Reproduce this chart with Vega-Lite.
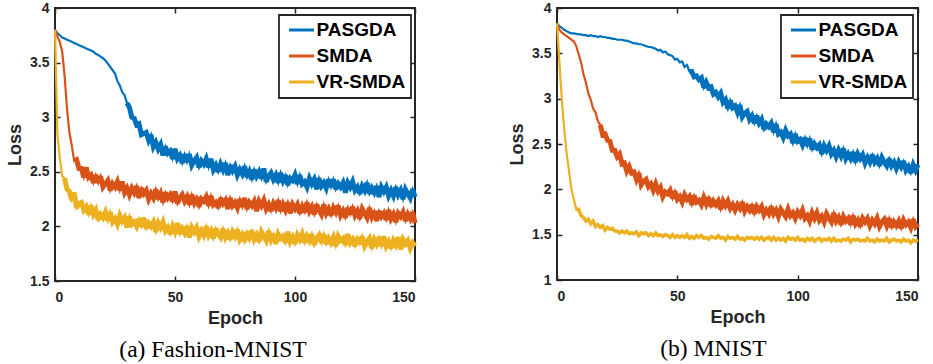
{
"$schema":"https://vega.github.io/schema/vega-lite/v6.json",
"padding":{"left":5,"top":0,"right":2,"bottom":2},
"spacing":83,
"resolve":{"scale":{"color":"independent","y":"independent"},"legend":{"color":"independent"}},
"config":{
"font":"Liberation Sans",
"view":{"stroke":"#262626","strokeWidth":2},
"axis":{"grid":false,"domain":false,"ticks":true,"zindex":1,"offset":-5,"tickSize":5,"tickWidth":1.5,"tickColor":"#262626","labelFont":"Liberation Sans","labelFontWeight":"bold","labelFontSize":14,"labelColor":"#262626","titleFont":"Liberation Sans","titleFontWeight":"bold","titleFontSize":18,"titleColor":"#262626"},
"axisX":{"labelPadding":9,"titlePadding":5},
"axisY":{"labelPadding":6,"titlePadding":5},
"legend":{"orient":"none","legendX":224,"legendY":7,"strokeColor":"#262626","strokeWidth":1.8,"fillColor":"white","padding":5.5,"title":null,"labelFont":"Liberation Sans","labelFontWeight":"bold","labelFontSize":19,"labelColor":"black","symbolType":"M-1,0H4","symbolSize":100,"symbolStrokeWidth":3,"labelOffset":13,"rowPadding":6},
"title":{"font":"Liberation Serif","fontSize":23.5,"fontWeight":"normal","color":"black","orient":"bottom","anchor":"middle","frame":"group","offset":11}
},
"datasets":{
"fashion":[
{"epoch":0,"PASGDA":3.80,"SMDA":3.80,"VR-SMDA":3.80},
{"epoch":1,"PASGDA":3.77,"SMDA":3.74,"VR-SMDA":2.84},
{"epoch":2,"PASGDA":3.75,"SMDA":3.69,"VR-SMDA":2.63},
{"epoch":3,"PASGDA":3.73,"SMDA":3.60,"VR-SMDA":2.46},
{"epoch":4,"PASGDA":3.72,"SMDA":3.38,"VR-SMDA":2.44},
{"epoch":5,"PASGDA":3.71,"SMDA":3.08,"VR-SMDA":2.34},
{"epoch":6,"PASGDA":3.70,"SMDA":2.86,"VR-SMDA":2.32},
{"epoch":7,"PASGDA":3.69,"SMDA":2.74,"VR-SMDA":2.24},
{"epoch":8,"PASGDA":3.68,"SMDA":2.60,"VR-SMDA":2.31},
{"epoch":9,"PASGDA":3.67,"SMDA":2.61,"VR-SMDA":2.17},
{"epoch":10,"PASGDA":3.66,"SMDA":2.53,"VR-SMDA":2.21},
{"epoch":11,"PASGDA":3.65,"SMDA":2.53,"VR-SMDA":2.22},
{"epoch":12,"PASGDA":3.64,"SMDA":2.45,"VR-SMDA":2.15},
{"epoch":13,"PASGDA":3.63,"SMDA":2.54,"VR-SMDA":2.18},
{"epoch":14,"PASGDA":3.62,"SMDA":2.45,"VR-SMDA":2.11},
{"epoch":15,"PASGDA":3.61,"SMDA":2.47,"VR-SMDA":2.19},
{"epoch":16,"PASGDA":3.60,"SMDA":2.40,"VR-SMDA":2.11},
{"epoch":17,"PASGDA":3.58,"SMDA":2.47,"VR-SMDA":2.15},
{"epoch":18,"PASGDA":3.57,"SMDA":2.40,"VR-SMDA":2.06},
{"epoch":19,"PASGDA":3.555,"SMDA":2.46,"VR-SMDA":2.11},
{"epoch":20,"PASGDA":3.54,"SMDA":2.36,"VR-SMDA":2.08},
{"epoch":21,"PASGDA":3.52,"SMDA":2.39,"VR-SMDA":2.13},
{"epoch":22,"PASGDA":3.49,"SMDA":2.42,"VR-SMDA":2.05},
{"epoch":23,"PASGDA":3.46,"SMDA":2.33,"VR-SMDA":2.13},
{"epoch":24,"PASGDA":3.43,"SMDA":2.39,"VR-SMDA":2.04},
{"epoch":25,"PASGDA":3.40,"SMDA":2.36,"VR-SMDA":2.07},
{"epoch":26,"PASGDA":3.33,"SMDA":2.41,"VR-SMDA":2.02},
{"epoch":27,"PASGDA":3.29,"SMDA":2.33,"VR-SMDA":2.10},
{"epoch":28,"PASGDA":3.23,"SMDA":2.41,"VR-SMDA":2.05},
{"epoch":29,"PASGDA":3.20,"SMDA":2.31,"VR-SMDA":2.08},
{"epoch":30,"PASGDA":3.13,"SMDA":2.35,"VR-SMDA":1.99},
{"epoch":31,"PASGDA":3.09,"SMDA":2.29,"VR-SMDA":2.09},
{"epoch":32,"PASGDA":3.00,"SMDA":2.35,"VR-SMDA":2.02},
{"epoch":33,"PASGDA":2.99,"SMDA":2.31,"VR-SMDA":2.04},
{"epoch":34,"PASGDA":2.93,"SMDA":2.37,"VR-SMDA":2.00},
{"epoch":35,"PASGDA":2.94,"SMDA":2.26,"VR-SMDA":2.07},
{"epoch":36,"PASGDA":2.84,"SMDA":2.35,"VR-SMDA":2.00},
{"epoch":37,"PASGDA":2.85,"SMDA":2.30,"VR-SMDA":2.08},
{"epoch":38,"PASGDA":2.86,"SMDA":2.33,"VR-SMDA":1.98},
{"epoch":39,"PASGDA":2.79,"SMDA":2.25,"VR-SMDA":2.03},
{"epoch":40,"PASGDA":2.84,"SMDA":2.30,"VR-SMDA":2.00},
{"epoch":41,"PASGDA":2.73,"SMDA":2.26,"VR-SMDA":2.04},
{"epoch":42,"PASGDA":2.77,"SMDA":2.34,"VR-SMDA":1.95},
{"epoch":43,"PASGDA":2.71,"SMDA":2.25,"VR-SMDA":2.03},
{"epoch":44,"PASGDA":2.75,"SMDA":2.30,"VR-SMDA":1.99},
{"epoch":45,"PASGDA":2.65,"SMDA":2.22,"VR-SMDA":2.04},
{"epoch":46,"PASGDA":2.73,"SMDA":2.31,"VR-SMDA":1.96},
{"epoch":47,"PASGDA":2.67,"SMDA":2.26,"VR-SMDA":1.99},
{"epoch":48,"PASGDA":2.69,"SMDA":2.29,"VR-SMDA":1.93},
{"epoch":49,"PASGDA":2.62,"SMDA":2.23,"VR-SMDA":2.00},
{"epoch":50,"PASGDA":2.71,"SMDA":2.32,"VR-SMDA":1.95},
{"epoch":51,"PASGDA":2.62,"SMDA":2.21,"VR-SMDA":2.03},
{"epoch":52,"PASGDA":2.65,"SMDA":2.26,"VR-SMDA":1.93},
{"epoch":53,"PASGDA":2.58,"SMDA":2.29,"VR-SMDA":1.98},
{"epoch":54,"PASGDA":2.66,"SMDA":2.23,"VR-SMDA":1.94},
{"epoch":55,"PASGDA":2.59,"SMDA":2.27,"VR-SMDA":2.00},
{"epoch":56,"PASGDA":2.66,"SMDA":2.20,"VR-SMDA":1.90},
{"epoch":57,"PASGDA":2.56,"SMDA":2.29,"VR-SMDA":1.99},
{"epoch":58,"PASGDA":2.60,"SMDA":2.22,"VR-SMDA":1.95},
{"epoch":59,"PASGDA":2.63,"SMDA":2.27,"VR-SMDA":1.99},
{"epoch":60,"PASGDA":2.54,"SMDA":2.18,"VR-SMDA":1.91},
{"epoch":61,"PASGDA":2.60,"SMDA":2.25,"VR-SMDA":1.96},
{"epoch":62,"PASGDA":2.57,"SMDA":2.23,"VR-SMDA":1.92},
{"epoch":63,"PASGDA":2.62,"SMDA":2.27,"VR-SMDA":2.00},
{"epoch":64,"PASGDA":2.54,"SMDA":2.19,"VR-SMDA":1.92},
{"epoch":65,"PASGDA":2.62,"SMDA":2.28,"VR-SMDA":1.96},
{"epoch":66,"PASGDA":2.52,"SMDA":2.20,"VR-SMDA":1.89},
{"epoch":67,"PASGDA":2.56,"SMDA":2.22,"VR-SMDA":1.98},
{"epoch":68,"PASGDA":2.50,"SMDA":2.17,"VR-SMDA":1.93},
{"epoch":69,"PASGDA":2.57,"SMDA":2.26,"VR-SMDA":1.90},
{"epoch":70,"PASGDA":2.52,"SMDA":2.21,"VR-SMDA":1.98},
{"epoch":71,"PASGDA":2.58,"SMDA":2.24,"VR-SMDA":1.90},
{"epoch":72,"PASGDA":2.47,"SMDA":2.16,"VR-SMDA":1.94},
{"epoch":73,"PASGDA":2.56,"SMDA":2.26,"VR-SMDA":1.88},
{"epoch":74,"PASGDA":2.51,"SMDA":2.19,"VR-SMDA":1.95},
{"epoch":75,"PASGDA":2.55,"SMDA":2.22,"VR-SMDA":1.91},
{"epoch":76,"PASGDA":2.47,"SMDA":2.17,"VR-SMDA":1.97},
{"epoch":77,"PASGDA":2.52,"SMDA":2.25,"VR-SMDA":1.88},
{"epoch":78,"PASGDA":2.48,"SMDA":2.18,"VR-SMDA":1.92},
{"epoch":79,"PASGDA":2.55,"SMDA":2.26,"VR-SMDA":1.86},
{"epoch":80,"PASGDA":2.45,"SMDA":2.16,"VR-SMDA":1.95},
{"epoch":81,"PASGDA":2.50,"SMDA":2.22,"VR-SMDA":1.90},
{"epoch":82,"PASGDA":2.43,"SMDA":2.19,"VR-SMDA":1.96},
{"epoch":83,"PASGDA":2.52,"SMDA":2.23,"VR-SMDA":1.88},
{"epoch":84,"PASGDA":2.46,"SMDA":2.14,"VR-SMDA":1.92},
{"epoch":85,"PASGDA":2.50,"SMDA":2.23,"VR-SMDA":1.86},
{"epoch":86,"PASGDA":2.44,"SMDA":2.19,"VR-SMDA":1.95},
{"epoch":87,"PASGDA":2.53,"SMDA":2.24,"VR-SMDA":1.91},
{"epoch":88,"PASGDA":2.41,"SMDA":2.16,"VR-SMDA":1.87},
{"epoch":89,"PASGDA":2.46,"SMDA":2.20,"VR-SMDA":1.96},
{"epoch":90,"PASGDA":2.49,"SMDA":2.14,"VR-SMDA":1.88},
{"epoch":91,"PASGDA":2.43,"SMDA":2.21,"VR-SMDA":1.93},
{"epoch":92,"PASGDA":2.47,"SMDA":2.17,"VR-SMDA":1.84},
{"epoch":93,"PASGDA":2.40,"SMDA":2.24,"VR-SMDA":1.93},
{"epoch":94,"PASGDA":2.49,"SMDA":2.14,"VR-SMDA":1.89},
{"epoch":95,"PASGDA":2.42,"SMDA":2.20,"VR-SMDA":1.91},
{"epoch":96,"PASGDA":2.47,"SMDA":2.15,"VR-SMDA":1.85},
{"epoch":97,"PASGDA":2.38,"SMDA":2.22,"VR-SMDA":1.95},
{"epoch":98,"PASGDA":2.44,"SMDA":2.12,"VR-SMDA":1.86},
{"epoch":99,"PASGDA":2.42,"SMDA":2.20,"VR-SMDA":1.90},
{"epoch":100,"PASGDA":2.47,"SMDA":2.16,"VR-SMDA":1.84},
{"epoch":101,"PASGDA":2.39,"SMDA":2.20,"VR-SMDA":1.92},
{"epoch":102,"PASGDA":2.47,"SMDA":2.12,"VR-SMDA":1.88},
{"epoch":103,"PASGDA":2.39,"SMDA":2.18,"VR-SMDA":1.93},
{"epoch":104,"PASGDA":2.41,"SMDA":2.13,"VR-SMDA":1.85},
{"epoch":105,"PASGDA":2.36,"SMDA":2.22,"VR-SMDA":1.91},
{"epoch":106,"PASGDA":2.44,"SMDA":2.14,"VR-SMDA":1.87},
{"epoch":107,"PASGDA":2.39,"SMDA":2.18,"VR-SMDA":1.93},
{"epoch":108,"PASGDA":2.43,"SMDA":2.11,"VR-SMDA":1.83},
{"epoch":109,"PASGDA":2.34,"SMDA":2.20,"VR-SMDA":1.89},
{"epoch":110,"PASGDA":2.44,"SMDA":2.15,"VR-SMDA":1.92},
{"epoch":111,"PASGDA":2.37,"SMDA":2.11,"VR-SMDA":1.85},
{"epoch":112,"PASGDA":2.40,"SMDA":2.20,"VR-SMDA":1.93},
{"epoch":113,"PASGDA":2.35,"SMDA":2.12,"VR-SMDA":1.84},
{"epoch":114,"PASGDA":2.43,"SMDA":2.16,"VR-SMDA":1.89},
{"epoch":115,"PASGDA":2.36,"SMDA":2.10,"VR-SMDA":1.85},
{"epoch":116,"PASGDA":2.43,"SMDA":2.17,"VR-SMDA":1.90},
{"epoch":117,"PASGDA":2.34,"SMDA":2.13,"VR-SMDA":1.82},
{"epoch":118,"PASGDA":2.39,"SMDA":2.19,"VR-SMDA":1.91},
{"epoch":119,"PASGDA":2.36,"SMDA":2.10,"VR-SMDA":1.87},
{"epoch":120,"PASGDA":2.40,"SMDA":2.14,"VR-SMDA":1.89},
{"epoch":121,"PASGDA":2.31,"SMDA":2.08,"VR-SMDA":1.83},
{"epoch":122,"PASGDA":2.40,"SMDA":2.17,"VR-SMDA":1.93},
{"epoch":123,"PASGDA":2.36,"SMDA":2.11,"VR-SMDA":1.85},
{"epoch":124,"PASGDA":2.41,"SMDA":2.18,"VR-SMDA":1.88},
{"epoch":125,"PASGDA":2.33,"SMDA":2.10,"VR-SMDA":1.82},
{"epoch":126,"PASGDA":2.36,"SMDA":2.14,"VR-SMDA":1.90},
{"epoch":127,"PASGDA":2.30,"SMDA":2.07,"VR-SMDA":1.84},
{"epoch":128,"PASGDA":2.37,"SMDA":2.16,"VR-SMDA":1.91},
{"epoch":129,"PASGDA":2.33,"SMDA":2.12,"VR-SMDA":1.82},
{"epoch":130,"PASGDA":2.40,"SMDA":2.08,"VR-SMDA":1.86},
{"epoch":131,"PASGDA":2.30,"SMDA":2.17,"VR-SMDA":1.89},
{"epoch":132,"PASGDA":2.35,"SMDA":2.09,"VR-SMDA":1.80},
{"epoch":133,"PASGDA":2.31,"SMDA":2.14,"VR-SMDA":1.88},
{"epoch":134,"PASGDA":2.37,"SMDA":2.05,"VR-SMDA":1.84},
{"epoch":135,"PASGDA":2.27,"SMDA":2.14,"VR-SMDA":1.90},
{"epoch":136,"PASGDA":2.36,"SMDA":2.09,"VR-SMDA":1.82},
{"epoch":137,"PASGDA":2.32,"SMDA":2.12,"VR-SMDA":1.91},
{"epoch":138,"PASGDA":2.36,"SMDA":2.06,"VR-SMDA":1.82},
{"epoch":139,"PASGDA":2.28,"SMDA":2.15,"VR-SMDA":1.86},
{"epoch":140,"PASGDA":2.33,"SMDA":2.07,"VR-SMDA":1.80},
{"epoch":141,"PASGDA":2.28,"SMDA":2.11,"VR-SMDA":1.87},
{"epoch":142,"PASGDA":2.36,"SMDA":2.04,"VR-SMDA":1.83},
{"epoch":143,"PASGDA":2.29,"SMDA":2.12,"VR-SMDA":1.90},
{"epoch":144,"PASGDA":2.33,"SMDA":2.09,"VR-SMDA":1.79},
{"epoch":145,"PASGDA":2.25,"SMDA":2.13,"VR-SMDA":1.88},
{"epoch":146,"PASGDA":2.34,"SMDA":2.05,"VR-SMDA":1.84},
{"epoch":147,"PASGDA":2.30,"SMDA":2.11,"VR-SMDA":1.87},
{"epoch":148,"PASGDA":2.26,"SMDA":2.07,"VR-SMDA":1.80},
{"epoch":149,"PASGDA":2.34,"SMDA":2.13,"VR-SMDA":1.85},
{"epoch":150,"PASGDA":2.27,"SMDA":2.03,"VR-SMDA":1.82}
],
"mnist":[
{"epoch":0,"PASGDA":3.83,"SMDA":3.83,"VR-SMDA":3.83},
{"epoch":1,"PASGDA":3.80,"SMDA":3.76,"VR-SMDA":3.40},
{"epoch":2,"PASGDA":3.78,"SMDA":3.73,"VR-SMDA":2.99},
{"epoch":3,"PASGDA":3.76,"SMDA":3.71,"VR-SMDA":2.66},
{"epoch":4,"PASGDA":3.745,"SMDA":3.69,"VR-SMDA":2.40},
{"epoch":5,"PASGDA":3.73,"SMDA":3.67,"VR-SMDA":2.20},
{"epoch":6,"PASGDA":3.72,"SMDA":3.65,"VR-SMDA":2.00},
{"epoch":7,"PASGDA":3.72,"SMDA":3.63,"VR-SMDA":1.89},
{"epoch":8,"PASGDA":3.715,"SMDA":3.58,"VR-SMDA":1.78},
{"epoch":9,"PASGDA":3.71,"SMDA":3.49,"VR-SMDA":1.78},
{"epoch":10,"PASGDA":3.71,"SMDA":3.40,"VR-SMDA":1.71},
{"epoch":11,"PASGDA":3.70,"SMDA":3.27,"VR-SMDA":1.69},
{"epoch":12,"PASGDA":3.70,"SMDA":3.18,"VR-SMDA":1.65},
{"epoch":13,"PASGDA":3.69,"SMDA":3.06,"VR-SMDA":1.67},
{"epoch":14,"PASGDA":3.70,"SMDA":2.99,"VR-SMDA":1.62},
{"epoch":15,"PASGDA":3.69,"SMDA":2.89,"VR-SMDA":1.65},
{"epoch":16,"PASGDA":3.69,"SMDA":2.85,"VR-SMDA":1.59},
{"epoch":17,"PASGDA":3.68,"SMDA":2.75,"VR-SMDA":1.61},
{"epoch":18,"PASGDA":3.69,"SMDA":2.71,"VR-SMDA":1.58},
{"epoch":19,"PASGDA":3.68,"SMDA":2.60,"VR-SMDA":1.60},
{"epoch":20,"PASGDA":3.68,"SMDA":2.61,"VR-SMDA":1.55},
{"epoch":21,"PASGDA":3.67,"SMDA":2.54,"VR-SMDA":1.58},
{"epoch":22,"PASGDA":3.67,"SMDA":2.53,"VR-SMDA":1.56},
{"epoch":23,"PASGDA":3.66,"SMDA":2.43,"VR-SMDA":1.57},
{"epoch":24,"PASGDA":3.66,"SMDA":2.43,"VR-SMDA":1.54},
{"epoch":25,"PASGDA":3.65,"SMDA":2.36,"VR-SMDA":1.54},
{"epoch":26,"PASGDA":3.65,"SMDA":2.39,"VR-SMDA":1.52},
{"epoch":27,"PASGDA":3.65,"SMDA":2.28,"VR-SMDA":1.54},
{"epoch":28,"PASGDA":3.64,"SMDA":2.29,"VR-SMDA":1.52},
{"epoch":29,"PASGDA":3.64,"SMDA":2.20,"VR-SMDA":1.54},
{"epoch":30,"PASGDA":3.63,"SMDA":2.25,"VR-SMDA":1.51},
{"epoch":31,"PASGDA":3.62,"SMDA":2.18,"VR-SMDA":1.52},
{"epoch":32,"PASGDA":3.61,"SMDA":2.19,"VR-SMDA":1.51},
{"epoch":33,"PASGDA":3.61,"SMDA":2.11,"VR-SMDA":1.53},
{"epoch":34,"PASGDA":3.60,"SMDA":2.18,"VR-SMDA":1.49},
{"epoch":35,"PASGDA":3.60,"SMDA":2.05,"VR-SMDA":1.52},
{"epoch":36,"PASGDA":3.59,"SMDA":2.09,"VR-SMDA":1.51},
{"epoch":37,"PASGDA":3.58,"SMDA":2.11,"VR-SMDA":1.52},
{"epoch":38,"PASGDA":3.57,"SMDA":2.03,"VR-SMDA":1.49},
{"epoch":39,"PASGDA":3.57,"SMDA":2.06,"VR-SMDA":1.51},
{"epoch":40,"PASGDA":3.56,"SMDA":1.99,"VR-SMDA":1.49},
{"epoch":41,"PASGDA":3.55,"SMDA":2.06,"VR-SMDA":1.52},
{"epoch":42,"PASGDA":3.53,"SMDA":1.98,"VR-SMDA":1.49},
{"epoch":43,"PASGDA":3.54,"SMDA":2.02,"VR-SMDA":1.50},
{"epoch":44,"PASGDA":3.51,"SMDA":1.92,"VR-SMDA":1.48},
{"epoch":45,"PASGDA":3.52,"SMDA":1.97,"VR-SMDA":1.50},
{"epoch":46,"PASGDA":3.49,"SMDA":1.95,"VR-SMDA":1.49},
{"epoch":47,"PASGDA":3.48,"SMDA":1.99,"VR-SMDA":1.47},
{"epoch":48,"PASGDA":3.47,"SMDA":1.90,"VR-SMDA":1.50},
{"epoch":49,"PASGDA":3.43,"SMDA":1.98,"VR-SMDA":1.47},
{"epoch":50,"PASGDA":3.44,"SMDA":1.89,"VR-SMDA":1.49},
{"epoch":51,"PASGDA":3.40,"SMDA":1.92,"VR-SMDA":1.47},
{"epoch":52,"PASGDA":3.41,"SMDA":1.86,"VR-SMDA":1.49},
{"epoch":53,"PASGDA":3.35,"SMDA":1.94,"VR-SMDA":1.47},
{"epoch":54,"PASGDA":3.37,"SMDA":1.89,"VR-SMDA":1.50},
{"epoch":55,"PASGDA":3.30,"SMDA":1.92,"VR-SMDA":1.46},
{"epoch":56,"PASGDA":3.30,"SMDA":1.83,"VR-SMDA":1.48},
{"epoch":57,"PASGDA":3.24,"SMDA":1.93,"VR-SMDA":1.46},
{"epoch":58,"PASGDA":3.25,"SMDA":1.86,"VR-SMDA":1.49},
{"epoch":59,"PASGDA":3.21,"SMDA":1.88,"VR-SMDA":1.47},
{"epoch":60,"PASGDA":3.23,"SMDA":1.83,"VR-SMDA":1.49},
{"epoch":61,"PASGDA":3.12,"SMDA":1.91,"VR-SMDA":1.46},
{"epoch":62,"PASGDA":3.18,"SMDA":1.84,"VR-SMDA":1.47},
{"epoch":63,"PASGDA":3.12,"SMDA":1.91,"VR-SMDA":1.45},
{"epoch":64,"PASGDA":3.13,"SMDA":1.81,"VR-SMDA":1.48},
{"epoch":65,"PASGDA":3.05,"SMDA":1.87,"VR-SMDA":1.47},
{"epoch":66,"PASGDA":3.07,"SMDA":1.83,"VR-SMDA":1.46},
{"epoch":67,"PASGDA":3.02,"SMDA":1.87,"VR-SMDA":1.49},
{"epoch":68,"PASGDA":3.06,"SMDA":1.78,"VR-SMDA":1.46},
{"epoch":69,"PASGDA":2.96,"SMDA":1.87,"VR-SMDA":1.47},
{"epoch":70,"PASGDA":2.99,"SMDA":1.82,"VR-SMDA":1.44},
{"epoch":71,"PASGDA":2.89,"SMDA":1.87,"VR-SMDA":1.48},
{"epoch":72,"PASGDA":2.98,"SMDA":1.79,"VR-SMDA":1.46},
{"epoch":73,"PASGDA":2.90,"SMDA":1.83,"VR-SMDA":1.47},
{"epoch":74,"PASGDA":2.92,"SMDA":1.77,"VR-SMDA":1.45},
{"epoch":75,"PASGDA":2.85,"SMDA":1.83,"VR-SMDA":1.48},
{"epoch":76,"PASGDA":2.93,"SMDA":1.79,"VR-SMDA":1.45},
{"epoch":77,"PASGDA":2.80,"SMDA":1.86,"VR-SMDA":1.46},
{"epoch":78,"PASGDA":2.84,"SMDA":1.76,"VR-SMDA":1.44},
{"epoch":79,"PASGDA":2.86,"SMDA":1.81,"VR-SMDA":1.47},
{"epoch":80,"PASGDA":2.77,"SMDA":1.77,"VR-SMDA":1.46},
{"epoch":81,"PASGDA":2.81,"SMDA":1.83,"VR-SMDA":1.47},
{"epoch":82,"PASGDA":2.73,"SMDA":1.73,"VR-SMDA":1.45},
{"epoch":83,"PASGDA":2.81,"SMDA":1.81,"VR-SMDA":1.47},
{"epoch":84,"PASGDA":2.73,"SMDA":1.77,"VR-SMDA":1.45},
{"epoch":85,"PASGDA":2.77,"SMDA":1.81,"VR-SMDA":1.47},
{"epoch":86,"PASGDA":2.66,"SMDA":1.72,"VR-SMDA":1.44},
{"epoch":87,"PASGDA":2.72,"SMDA":1.77,"VR-SMDA":1.46},
{"epoch":88,"PASGDA":2.69,"SMDA":1.73,"VR-SMDA":1.47},
{"epoch":89,"PASGDA":2.73,"SMDA":1.81,"VR-SMDA":1.44},
{"epoch":90,"PASGDA":2.63,"SMDA":1.73,"VR-SMDA":1.47},
{"epoch":91,"PASGDA":2.72,"SMDA":1.77,"VR-SMDA":1.44},
{"epoch":92,"PASGDA":2.61,"SMDA":1.70,"VR-SMDA":1.46},
{"epoch":93,"PASGDA":2.63,"SMDA":1.78,"VR-SMDA":1.44},
{"epoch":94,"PASGDA":2.57,"SMDA":1.74,"VR-SMDA":1.46},
{"epoch":95,"PASGDA":2.65,"SMDA":1.70,"VR-SMDA":1.43},
{"epoch":96,"PASGDA":2.59,"SMDA":1.78,"VR-SMDA":1.47},
{"epoch":97,"PASGDA":2.61,"SMDA":1.71,"VR-SMDA":1.45},
{"epoch":98,"PASGDA":2.51,"SMDA":1.74,"VR-SMDA":1.46},
{"epoch":99,"PASGDA":2.61,"SMDA":1.68,"VR-SMDA":1.44},
{"epoch":100,"PASGDA":2.53,"SMDA":1.75,"VR-SMDA":1.47},
{"epoch":101,"PASGDA":2.55,"SMDA":1.71,"VR-SMDA":1.44},
{"epoch":102,"PASGDA":2.49,"SMDA":1.77,"VR-SMDA":1.45},
{"epoch":103,"PASGDA":2.57,"SMDA":1.68,"VR-SMDA":1.43},
{"epoch":104,"PASGDA":2.48,"SMDA":1.71,"VR-SMDA":1.46},
{"epoch":105,"PASGDA":2.56,"SMDA":1.65,"VR-SMDA":1.44},
{"epoch":106,"PASGDA":2.44,"SMDA":1.74,"VR-SMDA":1.46},
{"epoch":107,"PASGDA":2.50,"SMDA":1.68,"VR-SMDA":1.43},
{"epoch":108,"PASGDA":2.46,"SMDA":1.74,"VR-SMDA":1.45},
{"epoch":109,"PASGDA":2.49,"SMDA":1.66,"VR-SMDA":1.46},
{"epoch":110,"PASGDA":2.39,"SMDA":1.70,"VR-SMDA":1.43},
{"epoch":111,"PASGDA":2.48,"SMDA":1.64,"VR-SMDA":1.45},
{"epoch":112,"PASGDA":2.43,"SMDA":1.73,"VR-SMDA":1.44},
{"epoch":113,"PASGDA":2.48,"SMDA":1.68,"VR-SMDA":1.46},
{"epoch":114,"PASGDA":2.39,"SMDA":1.64,"VR-SMDA":1.43},
{"epoch":115,"PASGDA":2.43,"SMDA":1.74,"VR-SMDA":1.46},
{"epoch":116,"PASGDA":2.36,"SMDA":1.65,"VR-SMDA":1.43},
{"epoch":117,"PASGDA":2.43,"SMDA":1.69,"VR-SMDA":1.44},
{"epoch":118,"PASGDA":2.37,"SMDA":1.61,"VR-SMDA":1.43},
{"epoch":119,"PASGDA":2.45,"SMDA":1.70,"VR-SMDA":1.45},
{"epoch":120,"PASGDA":2.34,"SMDA":1.65,"VR-SMDA":1.44},
{"epoch":121,"PASGDA":2.39,"SMDA":1.68,"VR-SMDA":1.46},
{"epoch":122,"PASGDA":2.34,"SMDA":1.61,"VR-SMDA":1.42},
{"epoch":123,"PASGDA":2.41,"SMDA":1.71,"VR-SMDA":1.45},
{"epoch":124,"PASGDA":2.30,"SMDA":1.62,"VR-SMDA":1.44},
{"epoch":125,"PASGDA":2.39,"SMDA":1.66,"VR-SMDA":1.45},
{"epoch":126,"PASGDA":2.34,"SMDA":1.59,"VR-SMDA":1.43},
{"epoch":127,"PASGDA":2.38,"SMDA":1.68,"VR-SMDA":1.44},
{"epoch":128,"PASGDA":2.29,"SMDA":1.64,"VR-SMDA":1.43},
{"epoch":129,"PASGDA":2.35,"SMDA":1.68,"VR-SMDA":1.46},
{"epoch":130,"PASGDA":2.30,"SMDA":1.60,"VR-SMDA":1.43},
{"epoch":131,"PASGDA":2.38,"SMDA":1.66,"VR-SMDA":1.44},
{"epoch":132,"PASGDA":2.30,"SMDA":1.62,"VR-SMDA":1.42},
{"epoch":133,"PASGDA":2.34,"SMDA":1.68,"VR-SMDA":1.45},
{"epoch":134,"PASGDA":2.26,"SMDA":1.59,"VR-SMDA":1.43},
{"epoch":135,"PASGDA":2.35,"SMDA":1.64,"VR-SMDA":1.44},
{"epoch":136,"PASGDA":2.30,"SMDA":1.67,"VR-SMDA":1.43},
{"epoch":137,"PASGDA":2.26,"SMDA":1.60,"VR-SMDA":1.46},
{"epoch":138,"PASGDA":2.34,"SMDA":1.68,"VR-SMDA":1.42},
{"epoch":139,"PASGDA":2.26,"SMDA":1.58,"VR-SMDA":1.44},
{"epoch":140,"PASGDA":2.30,"SMDA":1.64,"VR-SMDA":1.45},
{"epoch":141,"PASGDA":2.23,"SMDA":1.60,"VR-SMDA":1.43},
{"epoch":142,"PASGDA":2.30,"SMDA":1.65,"VR-SMDA":1.44},
{"epoch":143,"PASGDA":2.25,"SMDA":1.57,"VR-SMDA":1.42},
{"epoch":144,"PASGDA":2.31,"SMDA":1.66,"VR-SMDA":1.45},
{"epoch":145,"PASGDA":2.21,"SMDA":1.61,"VR-SMDA":1.43},
{"epoch":146,"PASGDA":2.25,"SMDA":1.64,"VR-SMDA":1.44},
{"epoch":147,"PASGDA":2.18,"SMDA":1.58,"VR-SMDA":1.41},
{"epoch":148,"PASGDA":2.27,"SMDA":1.67,"VR-SMDA":1.44},
{"epoch":149,"PASGDA":2.21,"SMDA":1.59,"VR-SMDA":1.43},
{"epoch":150,"PASGDA":2.27,"SMDA":1.62,"VR-SMDA":1.44}
]
},
"hconcat":[
{
"width":360,"height":273,
"data":{"name":"fashion"},
"transform":[{"fold":["PASGDA","SMDA","VR-SMDA"],"as":["series","loss"]}],
"title":{"text":"(a) Fashion-MNIST","dx":-22},
"encoding":{
"x":{"field":"epoch","type":"quantitative","scale":{"domain":[0,150],"nice":false}},
"y":{"field":"loss","type":"quantitative","scale":{"domain":[1.5,4],"nice":false,"zero":false}},
"color":{"field":"series","type":"nominal","scale":{"domain":["PASGDA","SMDA","VR-SMDA"],"range":["#0072BD","#D95319","#EDB120"]}}
},
"layer":[
{"mark":{"type":"line","strokeWidth":2.2},
"encoding":{
"x":{"field":"epoch","type":"quantitative","axis":{"orient":"bottom","title":"Epoch","values":[0,50,100,150],"format":"d"}},
"y":{"field":"loss","type":"quantitative","axis":{"orient":"left","title":"Loss","values":[1.5,2,2.5,3,3.5,4],"format":"~g"}}
}},
{"transform":[{"filter":"datum.epoch >= (datum.series == 'PASGDA' ? 30 : (datum.series == 'SMDA' ? 8 : 4))"}],
"mark":{"type":"line","strokeWidth":5,"strokeJoin":"miter","strokeMiterLimit":3},
"encoding":{
"x":{"field":"epoch","type":"quantitative","axis":{"orient":"top","title":null,"labels":false,"values":[0,50,100,150]}},
"y":{"field":"loss","type":"quantitative","axis":{"orient":"right","title":null,"labels":false,"values":[1.5,2,2.5,3,3.5,4]}}
}}
]
},
{
"width":361,"height":272,
"data":{"name":"mnist"},
"transform":[{"fold":["PASGDA","SMDA","VR-SMDA"],"as":["series","loss"]}],
"title":{"text":"(b) MNIST","dx":-24},
"encoding":{
"x":{"field":"epoch","type":"quantitative","scale":{"domain":[0,150],"nice":false}},
"y":{"field":"loss","type":"quantitative","scale":{"domain":[1,4],"nice":false,"zero":false}},
"color":{"field":"series","type":"nominal","scale":{"domain":["PASGDA","SMDA","VR-SMDA"],"range":["#0072BD","#D95319","#EDB120"]}}
},
"layer":[
{"mark":{"type":"line","strokeWidth":2.2},
"encoding":{
"x":{"field":"epoch","type":"quantitative","axis":{"orient":"bottom","title":"Epoch","values":[0,50,100,150],"format":"d"}},
"y":{"field":"loss","type":"quantitative","axis":{"orient":"left","title":"Loss","values":[1,1.5,2,2.5,3,3.5,4],"format":"~g"}}
}},
{"transform":[{"filter":"(datum.series == 'PASGDA' && datum.epoch >= 55) || (datum.series == 'SMDA' && datum.epoch >= 18)"}],
"mark":{"type":"line","strokeWidth":5,"strokeJoin":"miter","strokeMiterLimit":3},
"encoding":{
"x":{"field":"epoch","type":"quantitative","axis":{"orient":"top","title":null,"labels":false,"values":[0,50,100,150]}},
"y":{"field":"loss","type":"quantitative","axis":{"orient":"right","title":null,"labels":false,"values":[1,1.5,2,2.5,3,3.5,4]}}
}},
{"transform":[{"filter":"datum.series == 'VR-SMDA' && datum.epoch >= 8"}],
"mark":{"type":"line","strokeWidth":3.5,"strokeJoin":"miter","strokeMiterLimit":3},
"encoding":{
"x":{"field":"epoch","type":"quantitative","axis":null},
"y":{"field":"loss","type":"quantitative","axis":null}
}}
]
}
]
}
